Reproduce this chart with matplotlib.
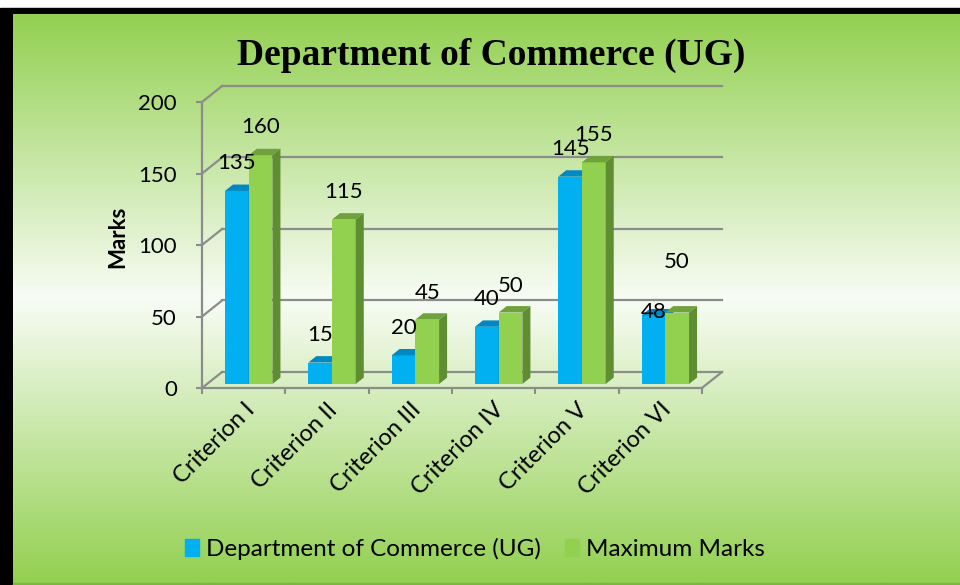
import numpy as np
import matplotlib
matplotlib.use('Agg')
import matplotlib.pyplot as plt
from matplotlib.patches import Polygon, Patch, Rectangle

categorias = ['Criterion I', 'Criterion II', 'Criterion III', 'Criterion IV', 'Criterion V', 'Criterion VI']
departamento = [135, 15, 20, 40, 145, 48]
maximo = [160, 115, 45, 50, 155, 50]
serie_dep = 'Department of Commerce (UG)'
serie_max = 'Maximum Marks'
titulo = 'Department of Commerce (UG)'
eje_y = 'Marks'
ticks_y = [0, 50, 100, 150, 200]

plt.rcParams['font.family'] = ['Lato', 'DejaVu Sans']

AZUL = '#00B0F0'
AZUL_TOP = '#0088C2'
AZUL_LADO = '#007DB3'
VERDE = '#92D050'
VERDE_TOP = '#6FA23C'
VERDE_LADO = '#5F8E32'
GRIS = '#8C8C8C'

# profundidad del "3d" en unidades de datos
DX = 0.241
DY = 11.2
W = 0.285

fig = plt.figure(figsize=(9.6, 5.85), dpi=100)

# fondo: borde negro + degradado verde-blanco-verde
bg = fig.add_axes([0, 0, 1, 1], zorder=-5)
bg.axis('off')
bg.add_patch(Rectangle((0, 8), 960, 577, color='black', zorder=1))
verde = np.array([146, 208, 80]) / 255
blanco = np.array([248, 252, 245]) / 255
f = np.linspace(0, 1, 570)
t = np.clip(1 - np.abs(f - 0.5) / 0.5, 0, 1)
grad = verde[None, :] * (1 - t[:, None]) + blanco[None, :] * t[:, None]
grad = np.repeat(grad[:, None, :], 2, axis=1)
bg.imshow(grad, extent=[13, 960, 583, 14], aspect='auto', interpolation='bilinear', zorder=2)
bg.add_patch(Rectangle((13, 583), 947, 2, color='#7DB443', zorder=3))
bg.set_xlim(0, 960)
bg.set_ylim(585, 0)

ax = fig.add_axes([202 / 960, (585 - 388) / 585, 520 / 960, 302 / 585])
ax.patch.set_visible(False)
ax.set_xlim(0, 6 + DX)
ax.set_ylim(0, 200 + DY)

# paredes y rejilla
for v in ticks_y:
    ax.plot([DX, 6 + DX], [v + DY, v + DY], color=GRIS, lw=1.6, clip_on=False, zorder=1)
    ax.plot([0, DX], [v, v + DY], color=GRIS, lw=1.6, clip_on=False, zorder=1)
ax.plot([6, 6 + DX], [0, DY], color=GRIS, lw=1.6, clip_on=False, zorder=1)

for s in ['top', 'right']:
    ax.spines[s].set_visible(False)
ax.spines['left'].set_bounds(0, 200)
ax.spines['bottom'].set_bounds(0, 6)
ax.spines['left'].set_color(GRIS)
ax.spines['bottom'].set_color(GRIS)
ax.spines['left'].set_linewidth(1.6)
ax.spines['bottom'].set_linewidth(1.6)

ax.set_yticks(ticks_y)
ax.tick_params(axis='y', length=4, width=1.5, color=GRIS, labelsize=16, pad=14)
ax.set_xticks(range(7))
ax.set_xticklabels([])
ax.set_xticks([i + 0.5 for i in range(6)], minor=True)
ax.set_xticklabels(categorias, minor=True, rotation=45, ha='right', rotation_mode='anchor', fontsize=17)
ax.tick_params(axis='x', which='major', length=4, width=1.5, color=GRIS)
ax.tick_params(axis='x', which='minor', length=0, pad=8)
ax.set_ylabel(eje_y, fontsize=16, fontweight='bold', labelpad=7)

x = np.arange(6) + 0.5
ox = 0.25 * DX
oy = 0.25 * DY
bdx = 0.4 * DX
bdy = 0.4 * DY


def barras_3d(pos, vals, frente, top, lado):
    barras = ax.bar(pos, vals, width=W, bottom=oy, color=frente, zorder=3)
    for b in barras:
        x0 = b.get_x()
        x1 = x0 + b.get_width()
        y0 = b.get_y()
        y1 = y0 + b.get_height()
        ax.add_patch(Polygon([(x0, y1), (x1, y1), (x1 + bdx, y1 + bdy), (x0 + bdx, y1 + bdy)],
                             color=top, zorder=3, lw=0))
        ax.add_patch(Polygon([(x1, y0), (x1, y1), (x1 + bdx, y1 + bdy), (x1 + bdx, y0 + bdy)],
                             color=lado, zorder=3, lw=0))
    return barras


b1 = barras_3d(x - W / 2 + ox, departamento, AZUL, AZUL_TOP, AZUL_LADO)
b2 = barras_3d(x + W / 2 + ox, maximo, VERDE, VERDE_TOP, VERDE_LADO)

# etiquetas de valores (posiciones como las dejó Excel)
desp_dep = [28, 28, 27, 28, 28, 3]
desp_max = [28, 28, 27, 27, 27, 50]
for barras, vals, desp in [(b1, departamento, desp_dep), (b2, maximo, desp_max)]:
    for b, v, d in zip(barras, vals, desp):
        ax.annotate(str(v), (b.get_x() + b.get_width() / 2, b.get_y() + b.get_height()),
                    xytext=(0, d), textcoords='offset pixels', ha='center', va='center',
                    fontsize=16, zorder=5, annotation_clip=False)

fig.text(491 / 960, 1 - 55 / 585, titulo, family='Liberation Serif', fontweight='bold',
         fontsize=27, ha='center', va='center')

manejadores = [Patch(color=AZUL, label=serie_dep), Patch(color=VERDE, label=serie_max)]
fig.legend(handles=manejadores, loc='center', bbox_to_anchor=(475 / 960, 1 - 549 / 585), ncol=2,
           frameon=False, fontsize=17.5, handlelength=0.55, handleheight=0.65, handletextpad=0.3,
           columnspacing=1.0)

fig.savefig('out.png', dpi=100)
